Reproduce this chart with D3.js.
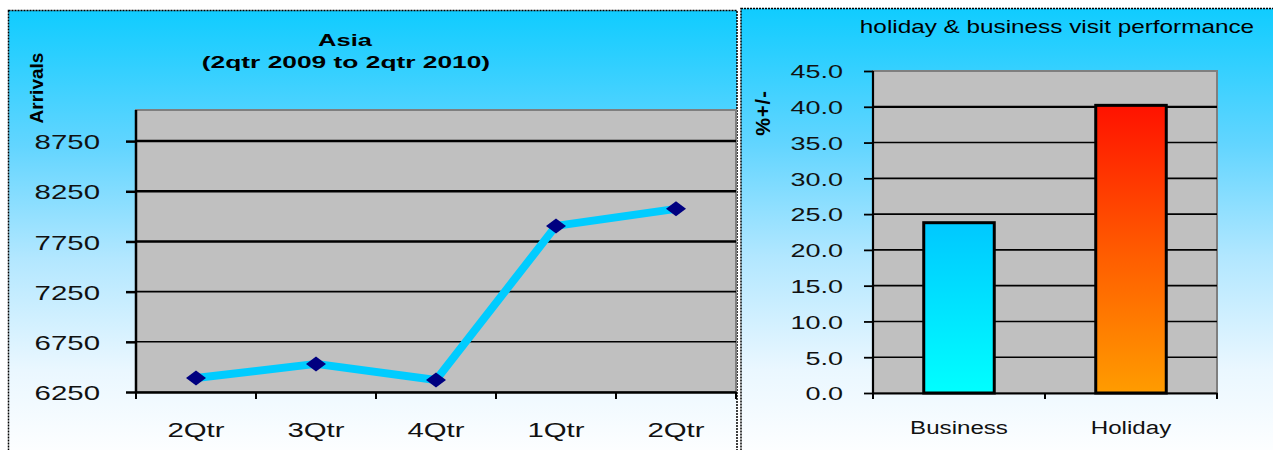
<!DOCTYPE html>
<html>
<head>
<meta charset="utf-8">
<script src="https://cdn.jsdelivr.net/npm/d3@7"></script>
<style>
  html, body { margin: 0; padding: 0; background: #ffffff; }
  svg { display: block; }
  text { font-family: "Liberation Sans", Arial, sans-serif; fill: #000; }
</style>
</head>
<body>
<svg id="chart" width="1273" height="450"></svg>
<script>
// Quarterly arrivals from Asia, 2nd quarter 2009 to 2nd quarter 2010
const quarterLabels = ["2Qtr", "3Qtr", "4Qtr", "1Qtr", "2Qtr"];
const asiaArrivals = [6390, 6530, 6370, 7905, 8075];
const arrivalTicks = [6250, 6750, 7250, 7750, 8250, 8750];

// Percentage change by purpose of visit
const visitTypes = ["Business", "Holiday"];
const visitChange = [23.8, 40.2];
const changeTicks = [0, 5, 10, 15, 20, 25, 30, 35, 40, 45];

const svg = d3.select("#chart");
const defs = svg.append("defs");

// Horizontally widened lettering (scales glyphs, keeps the anchor point in place)
function widen(sel, sx) {
  sel.each(function () {
    const t = d3.select(this);
    const x = +(t.attr("x") || 0);
    t.attr("x", x / sx).attr("transform", `scale(${sx},1)`);
  });
  return sel;
}
function label(x, y, txt, size, sx, weight) {
  const t = svg.append("text").attr("x", x).attr("y", y).attr("text-anchor", "middle")
    .style("font-size", size + "px").style("font-weight", weight || "normal").text(txt);
  widen(t, sx);
  return t;
}

// Panel background: strong sky blue fading to white
const bg = defs.append("linearGradient")
  .attr("id", "panelBg").attr("x1", 0).attr("y1", 0).attr("x2", 0).attr("y2", 1);
[[0, "#10ccff"], [0.3, "#62d5ff"], [0.55, "#b2e7ff"], [0.8, "#eaf7ff"], [1, "#ffffff"]]
  .forEach(([o, c]) => bg.append("stop").attr("offset", o).attr("stop-color", c));

const gBusiness = defs.append("linearGradient")
  .attr("id", "barBusiness").attr("x1", 0).attr("y1", 0).attr("x2", 0).attr("y2", 1);
gBusiness.append("stop").attr("offset", 0).attr("stop-color", "#00c8ff");
gBusiness.append("stop").attr("offset", 1).attr("stop-color", "#00ffff");

const gHoliday = defs.append("linearGradient")
  .attr("id", "barHoliday").attr("x1", 0).attr("y1", 0).attr("x2", 0).attr("y2", 1);
gHoliday.append("stop").attr("offset", 0).attr("stop-color", "#ff1200");
gHoliday.append("stop").attr("offset", 0.5).attr("stop-color", "#ff5a00");
gHoliday.append("stop").attr("offset", 1).attr("stop-color", "#ff9c00");

// ---------- panel frames ----------
function panel(x, y, w, h) {
  svg.append("rect")
    .attr("x", x).attr("y", y).attr("width", w).attr("height", h)
    .attr("fill", "url(#panelBg)")
    .attr("stroke", "#000").attr("stroke-width", 1.5)
    .attr("stroke-dasharray", "2,1");
}
panel(8.5, 10.5, 728.5, 450);
panel(741, 8.5, 540, 452);

// ---------- left: line chart ----------
const L = { left: 136, right: 736, top: 110, bottom: 392 };
const xL = d3.scaleBand().domain(d3.range(quarterLabels.length)).range([L.left, L.right]);
const yL = d3.scaleLinear().domain([6250, 9060]).range([L.bottom, L.top]);

const left = svg.append("g");
left.append("rect")
  .attr("x", L.left).attr("y", L.top)
  .attr("width", L.right - L.left).attr("height", L.bottom - L.top)
  .attr("fill", "#c0c0c0").attr("stroke", "#7f7f7f").attr("stroke-width", 2);

// gridlines
left.selectAll("line.grid").data(arrivalTicks.filter(t => t > 6250)).join("line")
  .attr("x1", L.left).attr("x2", L.right)
  .attr("y1", d => yL(d)).attr("y2", d => yL(d))
  .attr("stroke", "#000")
  .attr("stroke-width", d => d >= 7750 ? 2.5 : 1.6);

// y axis
const yAxisL = left.append("g").attr("transform", `translate(${L.left},0)`)
  .call(d3.axisLeft(yL).tickValues(arrivalTicks).tickFormat(d3.format("d"))
    .tickSize(10).tickSizeOuter(0).tickPadding(26));
yAxisL.select(".domain").attr("stroke", "#000").attr("stroke-width", 2.5)
  .attr("d", `M0,${L.top}V${L.bottom + 1}`);
yAxisL.selectAll(".tick line").attr("stroke", "#000").attr("stroke-width", 2.5);
widen(yAxisL.selectAll(".tick text")
  .style("font-size", "21px").style("fill", "#111").attr("dy", "0.36em"), 1.4);

// x axis
const xAxisL = left.append("g").attr("transform", `translate(0,${L.bottom})`)
  .call(d3.axisBottom(xL).tickFormat(i => quarterLabels[i]).tickSize(0).tickPadding(30));
xAxisL.select(".domain").attr("stroke", "#000").attr("stroke-width", 2.5);
widen(xAxisL.selectAll(".tick text").style("font-size", "21px").style("fill", "#111"), 1.4);
// category separators
left.selectAll("line.sep").data(d3.range(quarterLabels.length + 1)).join("line")
  .attr("x1", i => L.left + i * xL.step()).attr("x2", i => L.left + i * xL.step())
  .attr("y1", L.bottom).attr("y2", L.bottom + 7)
  .attr("stroke", "#000").attr("stroke-width", 2);

// series line
const cx = i => xL(i) + xL.bandwidth() / 2;
left.append("path")
  .datum(asiaArrivals)
  .attr("fill", "none").attr("stroke", "#00ccff").attr("stroke-width", 8)
  .attr("stroke-linejoin", "round")
  .attr("d", d3.line().x((d, i) => cx(i)).y(d => yL(d)));

// diamond markers
left.selectAll("path.mk").data(asiaArrivals).join("path")
  .attr("fill", "#000080")
  .attr("d", (d, i) => {
    const x = cx(i), y = yL(d);
    return `M${x - 10},${y}L${x},${y - 7.5}L${x + 10},${y}L${x},${y + 7.5}Z`;
  });

// titles
label(345, 46, "Asia", 17, 1.5, "bold");
label(346, 68, "(2qtr 2009 to 2qtr 2010)", 17, 1.55, "bold");
svg.append("text")
  .attr("transform", "translate(43,88) rotate(-90)").attr("text-anchor", "middle")
  .style("font-family", "'Liberation Sans Narrow', 'Arial Narrow', sans-serif")
  .style("font-size", "19px").style("font-weight", "bold")
  .text("Arrivals");

// ---------- right: bar chart ----------
const R = { left: 873, right: 1217, top: 71, bottom: 393 };
const xR = d3.scaleBand().domain(visitTypes).range([R.left, R.right]).paddingInner(0.59).paddingOuter(0.295);
const yR = d3.scaleLinear().domain([0, 45]).range([R.bottom, R.top]);

const right = svg.append("g");
right.append("rect")
  .attr("x", R.left).attr("y", R.top)
  .attr("width", R.right - R.left).attr("height", R.bottom - R.top)
  .attr("fill", "#c0c0c0").attr("stroke", "#7f7f7f").attr("stroke-width", 2);

right.selectAll("line.grid").data(changeTicks.filter(t => t > 0 && t < 45)).join("line")
  .attr("x1", R.left).attr("x2", R.right)
  .attr("y1", d => yR(d)).attr("y2", d => yR(d))
  .attr("stroke", "#000")
  .attr("stroke-width", d => d === 40 ? 2.2 : 1.6);

const yAxisR = right.append("g").attr("transform", `translate(${R.left},0)`)
  .call(d3.axisLeft(yR).tickValues(changeTicks).tickFormat(d3.format(".1f"))
    .tickSize(9).tickSizeOuter(0).tickPadding(21));
yAxisR.select(".domain").attr("stroke", "#000").attr("stroke-width", 2.2)
  .attr("d", `M0,${R.top}V${R.bottom + 1}`);
yAxisR.selectAll(".tick line").attr("stroke", "#000").attr("stroke-width", 1.8);
widen(yAxisR.selectAll(".tick text")
  .style("font-size", "19px").style("fill", "#111").attr("dy", "0.36em"), 1.42);

const xAxisR = right.append("g").attr("transform", `translate(0,${R.bottom})`)
  .call(d3.axisBottom(xR).tickSize(0).tickPadding(28));
xAxisR.select(".domain").attr("stroke", "#000").attr("stroke-width", 2.2);
widen(xAxisR.selectAll(".tick text").style("font-size", "19px").style("fill", "#111"), 1.27);
const stepR = (R.right - R.left) / visitTypes.length;
right.selectAll("line.sep").data(d3.range(visitTypes.length + 1)).join("line")
  .attr("x1", i => R.left + i * stepR).attr("x2", i => R.left + i * stepR)
  .attr("y1", R.bottom).attr("y2", R.bottom + 6)
  .attr("stroke", "#000").attr("stroke-width", 2);

right.selectAll("rect.bar").data(visitTypes).join("rect")
  .attr("x", d => xR(d)).attr("width", xR.bandwidth())
  .attr("y", (d, i) => yR(visitChange[i]))
  .attr("height", (d, i) => R.bottom - yR(visitChange[i]))
  .attr("fill", d => d === "Business" ? "url(#barBusiness)" : "url(#barHoliday)")
  .attr("stroke", "#000").attr("stroke-width", 3);

label(1057, 33, "holiday & business visit performance", 18, 1.35);
svg.append("text")
  .attr("transform", "translate(770,113) rotate(-90)").attr("text-anchor", "middle")
  .style("font-size", "20px").style("font-weight", "bold").style("letter-spacing", "1px")
  .text("%+/-");
</script>
</body>
</html>
